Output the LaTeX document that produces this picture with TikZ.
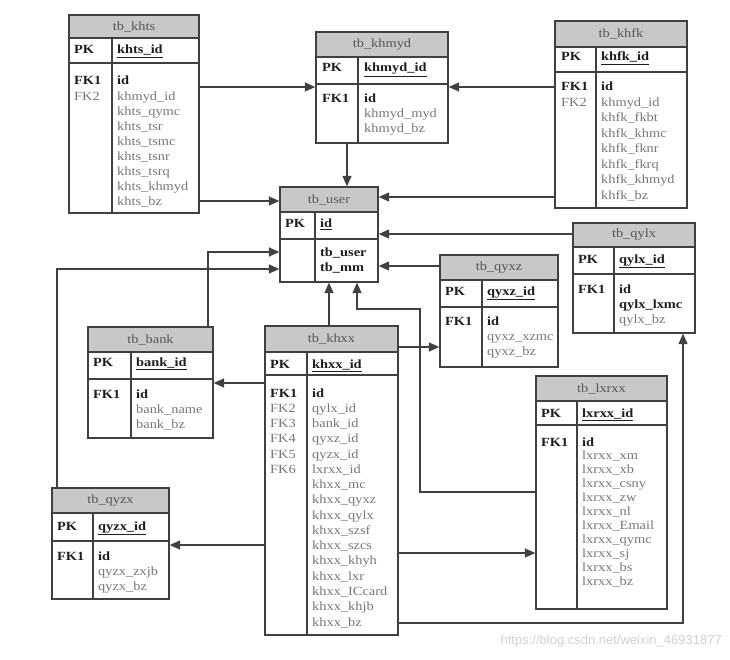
\documentclass[tikz,border=0pt]{standalone}
\usepackage{fontspec}
\setmainfont{Liberation Serif}[FakeStretch=1.15]
\newfontfamily\wmfont{Liberation Sans}
\usetikzlibrary{arrows.meta,fit}
\definecolor{linecol}{HTML}{404040}
\definecolor{titlefill}{HTML}{C8C8C8}
\definecolor{keycol}{HTML}{1E1E1E}
\definecolor{fieldcol}{HTML}{777777}
\definecolor{titlecol}{HTML}{555555}
\definecolor{wmcol}{HTML}{D2D2D2}
\newcommand{\kb}[1]{\textcolor{keycol}{\bfseries #1}}
\newcommand{\ku}[1]{\textcolor{keycol}{\bfseries\underline{#1}}}
\tikzset{
  tabframe/.style={draw=linecol, line width=1.3pt, inner sep=0pt},
  tabline/.style={draw=linecol, line width=1.3pt},
  titletext/.style={font=\fontsize{12.5}{14}\selectfont, text=titlecol, inner sep=0pt},
  fieldtext/.style={font=\fontsize{12.5}{14}\selectfont, text=fieldcol, inner sep=0pt,
    text height=8.5pt, text depth=2.5pt, anchor=west},
  fk/.style={draw=linecol, line width=1.3pt, -{Triangle[length=10.5pt,width=9pt]}},
}
% name, L, R, T, title bottom, pk bottom, B, divider, title
\newcommand{\ertab}[9]{%
  \fill[titlefill] (#2,#4) rectangle (#3,#5);
  \node[fit={(#2,#4) (#3,#7)}, tabframe] (#1) {};
  \draw[tabline] (#2,#5) -- (#3,#5) (#2,#6) -- (#3,#6) (#8,#5) -- (#8,#7);
  \node[titletext] (#1-title) at ({(#2+#3)/2},{(#4+#5)/2}) {#9};
}
% name, x left, x right, y, key
\newcommand{\pkrow}[5]{%
  \node[fieldtext] (#1-pk) at (#2,#4) {\kb{PK}};
  \node[fieldtext] (#1-key) at (#3,#4) {\ku{#5}};
}
% name, x, y0, dy, list
\newcommand{\rows}[5]{%
  \foreach \t [count=\i from 0] in {#5}
    \node[fieldtext] (#1-\i) at (#2,{#3+\i*#4}) {\t};
}
\begin{document}
\begin{tikzpicture}[x=1pt,y=-1pt]
\useasboundingbox (0,0) rectangle (730,660);
\fill[white] (0,0) rectangle (730,660);

% tb_khts
\ertab{khts}{69}{199}{15}{38}{63}{213}{112}{tb\_khts}
\pkrow{khts}{74}{117}{51}{khts\_id}
\rows{khts-l}{74}{82}{15.1}{\kb{FK1},FK2}
\rows{khts-r}{117}{82}{15.1}{\kb{id},khmyd\_id,khts\_qymc,khts\_tsr,khts\_tsmc,khts\_tsnr,khts\_tsrq,khts\_khmyd,khts\_bz}

% tb_khmyd
\ertab{khmyd}{316}{448}{32}{57}{84}{143}{358}{tb\_khmyd}
\pkrow{khmyd}{322}{364}{69}{khmyd\_id}
\rows{khmyd-l}{322}{100}{15}{\kb{FK1}}
\rows{khmyd-r}{364}{100}{15}{\kb{id},khmyd\_myd,khmyd\_bz}

% tb_khfk
\ertab{khfk}{555}{687}{21}{47}{72}{208}{596}{tb\_khfk}
\pkrow{khfk}{561}{601}{58}{khfk\_id}
\rows{khfk-l}{561}{88}{15.5}{\kb{FK1},FK2}
\rows{khfk-r}{601}{88}{15.5}{\kb{id},khmyd\_id,khfk\_fkbt,khfk\_khmc,khfk\_fknr,khfk\_fkrq,khfk\_khmyd,khfk\_bz}

% tb_user
\ertab{user}{280}{378}{187}{212}{239}{282}{315}{tb\_user}
\pkrow{user}{285}{320}{225}{id}
\rows{user-r}{320}{253}{15}{\kb{tb\_user},\kb{tb\_mm}}

% tb_qylx
\ertab{qylx}{573}{695}{223}{247}{274}{333}{614}{tb\_qylx}
\pkrow{qylx}{578}{619}{260}{qylx\_id}
\rows{qylx-l}{578}{290}{15}{\kb{FK1}}
\rows{qylx-r}{619}{290}{15}{\kb{id},\kb{qylx\_lxmc},qylx\_bz}

% tb_qyxz
\ertab{qyxz}{440}{558}{255}{280}{307}{367}{482}{tb\_qyxz}
\pkrow{qyxz}{445}{487}{292}{qyxz\_id}
\rows{qyxz-l}{445}{322}{15}{\kb{FK1}}
\rows{qyxz-r}{487}{322}{15}{\kb{id},qyxz\_xzmc,qyxz\_bz}

% tb_bank
\ertab{bank}{88}{213}{327}{352}{379}{438}{131}{tb\_bank}
\pkrow{bank}{93}{136}{363}{bank\_id}
\rows{bank-l}{93}{395}{15}{\kb{FK1}}
\rows{bank-r}{136}{395}{15}{\kb{id},bank\_name,bank\_bz}

% tb_khxx
\ertab{khxx}{265}{398}{326}{352}{375}{635}{307}{tb\_khxx}
\pkrow{khxx}{270}{312}{365}{khxx\_id}
\rows{khxx-l}{270}{394}{15.27}{\kb{FK1},FK2,FK3,FK4,FK5,FK6}
\rows{khxx-r}{312}{394}{15.27}{\kb{id},qylx\_id,bank\_id,qyxz\_id,qyzx\_id,lxrxx\_id,khxx\_mc,khxx\_qyxz,khxx\_qylx,khxx\_szsf,khxx\_szcs,khxx\_khyh,khxx\_lxr,khxx\_ICcard,khxx\_khjb,khxx\_bz}

% tb_lxrxx
\ertab{lxrxx}{536}{667}{376}{401}{425}{609}{577}{tb\_lxrxx}
\pkrow{lxrxx}{541}{582}{414}{lxrxx\_id}
\rows{lxrxx-l}{541}{443}{13.9}{\kb{FK1}}
\rows{lxrxx-r}{582}{443}{13.9}{\kb{id},lxrxx\_xm,lxrxx\_xb,lxrxx\_csny,lxrxx\_zw,lxrxx\_nl,lxrxx\_Email,lxrxx\_qymc,lxrxx\_sj,lxrxx\_bs,lxrxx\_bz}

% tb_qyzx
\ertab{qyzx}{52}{169}{488}{513}{541}{599}{93}{tb\_qyzx}
\pkrow{qyzx}{57}{98}{527}{qyzx\_id}
\rows{qyzx-l}{57}{557}{15}{\kb{FK1}}
\rows{qyzx-r}{98}{557}{15}{\kb{id},qyzx\_zxjb,qyzx\_bz}

% connectors
\draw[fk] (khts.east |- 0,87) -- (khmyd.west |- 0,87);
\draw[fk] (khfk.west |- 0,87) -- (khmyd.east |- 0,87);
\draw[fk] (347,0 |- khmyd.south) -- (347,0 |- user.north);
\draw[fk] (khts.east |- 0,201) -- (user.west |- 0,201);
\draw[fk] (khfk.west |- 0,197) -- (user.east |- 0,197);
\draw[fk] (qylx.west |- 0,234) -- (user.east |- 0,234);
\draw[fk] (qyxz.west |- 0,266) -- (user.east |- 0,266);
\draw[fk] (208,0 |- bank.north) -- (208,252) -- (user.west |- 0,252);
\draw[fk] (57,0 |- qyzx.north) -- (57,269) -- (user.west |- 0,269);
\draw[fk] (329,0 |- khxx.north) -- (329,0 |- user.south);
\draw[fk] (lxrxx.west |- 0,492) -- (420,492) -- (420,309) -- (357,309) -- (357,0 |- user.south);
\draw[fk] (khxx.east |- 0,347) -- (qyxz.west |- 0,347);
\draw[fk] (khxx.west |- 0,383) -- (bank.east |- 0,383);
\draw[fk] (khxx.west |- 0,545) -- (qyzx.east |- 0,545);
\draw[fk] (khxx.east |- 0,553) -- (lxrxx.west |- 0,553);
\draw[fk] (khxx.east |- 0,623) -- (683,623) -- (683,0 |- qylx.south);

% watermark
\node[font=\fontsize{13}{15}\selectfont\wmfont, text=wmcol, anchor=east, inner sep=0pt] (wm) at (722,641) {https://blog.csdn.net/weixin\_46931877};
\end{tikzpicture}
\end{document}
